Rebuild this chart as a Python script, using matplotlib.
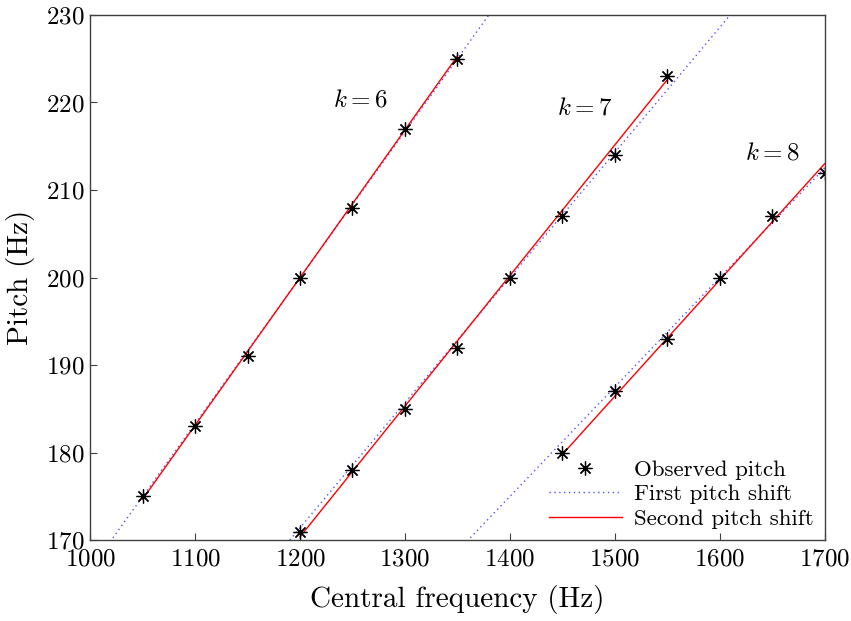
import numpy as np
import matplotlib
matplotlib.use("Agg")
import matplotlib.pyplot as plt

plt.rcParams['font.family'] = 'serif'
plt.rcParams['font.serif'] = ['cmr10']
plt.rcParams['mathtext.fontset'] = 'cm'
plt.rcParams['axes.unicode_minus'] = False
plt.rcParams['axes.formatter.use_mathtext'] = True

# observed pitch per harmonic k
k_vals = [6, 7, 8]
freq6 = [1050, 1100, 1150, 1200, 1250, 1300, 1350]
pitch6 = [175, 183, 191, 200, 208, 217, 225]
freq7 = [1200, 1250, 1300, 1350, 1400, 1450, 1500, 1550]
pitch7 = [171, 178, 185, 192, 200, 207, 214, 223]
freq8 = [1450, 1500, 1550, 1600, 1650, 1700]
pitch8 = [180, 187, 193, 200, 207, 212]

# second pitch shift fitted lines (end points)
second_f = [[1050, 1350], [1200, 1550], [1450, 1700]]
second_p = [[174.7, 225.3], [170.4, 222.6], [179.8, 213.0]]

# label positions
label_pos = [(1257, 220.2), (1471, 219.3), (1650, 214.2)]

fig = plt.figure(figsize=(8.51, 6.21), dpi=100)
ax = fig.add_axes([0.106, 0.130, 0.863, 0.846])

fgrid = np.linspace(1000, 1700, 200)
obs = [(freq6, pitch6), (freq7, pitch7), (freq8, pitch8)]
for i, k in enumerate(k_vals):
    # first pitch shift: pitch = f / k
    ax.plot(fgrid, fgrid / k, color='#5050ff', lw=1.0, dashes=(1, 2.5),
            label='First pitch shift' if i == 0 else None)
    ax.plot(second_f[i], second_p[i], '-', color='red', lw=1.0,
            label='Second pitch shift' if i == 0 else None)
    ax.plot(obs[i][0], obs[i][1], ls='none', marker=(8, 2, 0), ms=10,
            mew=0.9, color='black',
            label='Observed pitch' if i == 0 else None)
    ax.text(label_pos[i][0], label_pos[i][1], r'$k=%d$' % k, fontsize=18,
            ha='center', va='center')

ax.set_xlim(1000, 1700)
ax.set_ylim(170, 230)
ax.set_xticks(range(1000, 1701, 100))
ax.set_yticks(range(170, 231, 10))
ax.tick_params(direction='in', labelsize=18, length=5, width=0.8,
               color='#404040', top=False, right=False)
ax.tick_params(axis='x', pad=6)
ax.tick_params(axis='y', pad=4)
for s in ax.spines.values():
    s.set_color('#404040')
    s.set_linewidth(1.0)

ax.set_xlabel('Central frequency (Hz)', fontsize=21, labelpad=10)
ax.set_ylabel('Pitch (Hz)', fontsize=21, labelpad=8)

h, l = ax.get_legend_handles_labels()
order = [2, 0, 1]
ax.legend([h[j] for j in order], [l[j] for j in order], loc='lower right',
          frameon=False, fontsize=16.5, handlelength=3.2, handletextpad=0.5,
          borderaxespad=0.1, labelspacing=0.2)

fig.savefig('out.png', dpi=100)
